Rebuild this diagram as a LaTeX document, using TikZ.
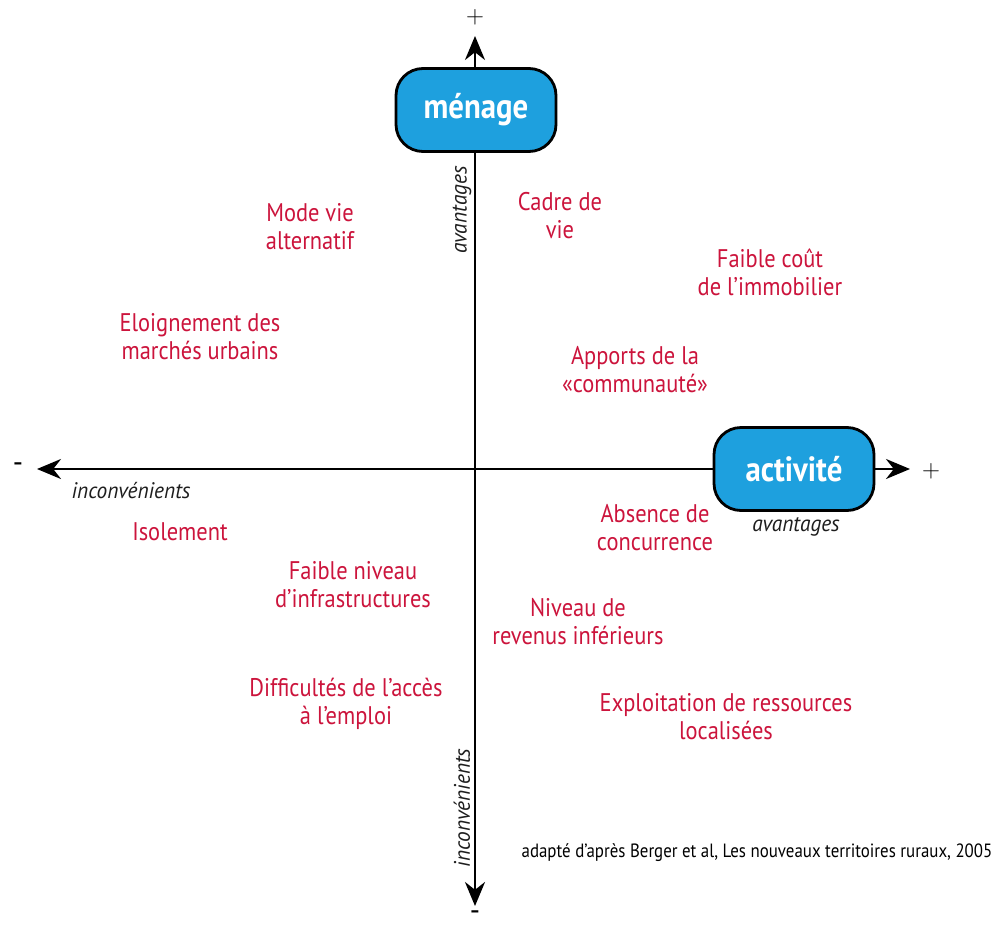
\documentclass[tikz,border=0pt]{standalone}
\usepackage{fontspec}
\setmainfont{PT Sans}[FakeStretch=0.88]
\newfontfamily\tagfont{PT Sans}[FakeStretch=0.95]
\usetikzlibrary{arrows.meta}
\definecolor{crimson}{RGB}{204,20,60}
\definecolor{sky}{RGB}{30,160,222}
\definecolor{ink}{RGB}{30,30,30}
\tikzset{
  pole/.style={draw=black, line width=2.8pt, rounded corners=27pt, fill=sky, text=white,
               font=\fontsize{35}{38}\selectfont\bfseries, minimum width=160pt, minimum height=83pt},
  item/.style={text=crimson, font=\fontsize{25.5}{28}\selectfont, align=center, inner sep=0pt},
  tag/.style={text=ink, font=\tagfont\fontsize{22.5}{24}\selectfont\itshape, inner sep=0pt},
  sign/.style={font=\tagfont\fontsize{30}{32}\selectfont, inner sep=0pt},
  plus/.style={font=\fontsize{29}{30}\selectfont, inner sep=0pt},
  axis/.style={line width=2.6pt, {Stealth[length=24pt,width=20pt]}-{Stealth[length=24pt,width=20pt]}},
}
\begin{document}
\begin{tikzpicture}[x=1pt,y=-1pt]
  \useasboundingbox[fill=white] (0,0) rectangle (1001,929);
  \coordinate (xmin) at (37,469);
  \coordinate (xmax) at (910,469);
  \coordinate (ymax) at (475,36);
  \coordinate (ymin) at (475,906);
  \draw[axis] (xmin) -- (xmax);
  \draw[axis] (ymin) -- (ymax);
  \node[pole] (menage) at (476,110) {ménage};
  \node[pole] (activite) at (794,469) {activité};
  \node[plus] (plusy) at (475,17) {$+$};
  \node[sign] (minusy) at (475,916) {-};
  \node[plus] (plusx) at (931,471) {$+$};
  \node[sign] (minusx) at (18,468) {-};
  \node[tag,rotate=90] (avy) at (462,210) {avantages};
  \node[tag,rotate=90] (incy) at (462,808) {inconvénients};
  \node[tag] (avx) at (796,527) {avantages};
  \node[tag] (incx) at (131,491) {inconvénients};
  \node[item] (modevie) at (310,227) {Mode vie\\alternatif};
  \node[item] (cadre) at (560,216) {Cadre de\\vie};
  \node[item] (cout) at (770,272) {Faible coût\\de l’immobilier};
  \node[item] (eloign) at (200,337) {Eloignement des\\marchés urbains};
  \node[item] (apports) at (635,370) {Apports de la\\«communauté»};
  \node[item] (absence) at (655,528) {Absence de\\concurrence};
  \node[item] (isol) at (180,532) {Isolement};
  \node[item] (infra) at (353,585) {Faible niveau\\d’infrastructures};
  \node[item] (revenus) at (578,622) {Niveau de\\revenus inférieurs};
  \node[item] (emploi) at (346,704) {Difficultés de l’accès\\à l’emploi};
  \node[item] (ressources) at (726,717) {Exploitation de ressources\\localisées};
  \node[text=black, font=\fontsize{19.2}{21}\selectfont, inner sep=0pt] (source) at (757,853)
    {adapté d’après Berger et al, Les nouveaux territoires ruraux, 2005};
\end{tikzpicture}
\end{document}
